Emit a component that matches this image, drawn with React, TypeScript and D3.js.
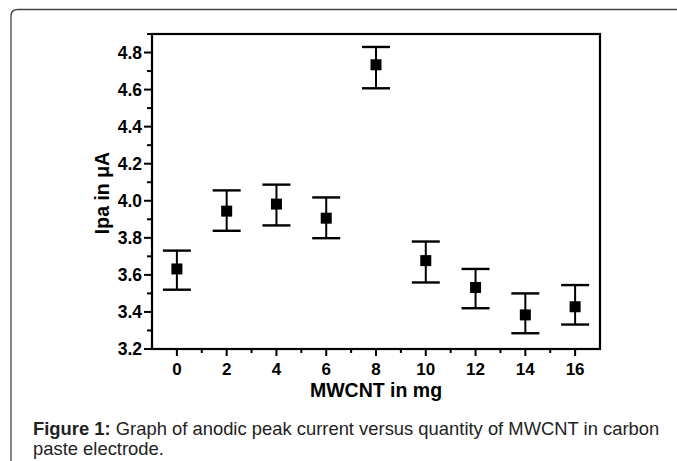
import React from "react";
import * as d3 from "d3";

const xValues = [0, 2, 4, 6, 8, 10, 12, 14, 16];
const yMeans = [3.632, 3.944, 3.982, 3.906, 4.734, 3.677, 3.532, 3.384, 3.428];
const yUpper = [3.731, 4.056, 4.087, 4.018, 4.83, 3.78, 3.632, 3.5, 3.545];
const yLower = [3.52, 3.838, 3.867, 3.798, 4.607, 3.559, 3.42, 3.285, 3.332];
const xTicks = [0, 2, 4, 6, 8, 10, 12, 14, 16];
const yTicks = [3.2, 3.4, 3.6, 3.8, 4.0, 4.2, 4.4, 4.6, 4.8];

const W = 677;
const H = 461;
const L = 152, R = 600, T = 34, B = 349;

export default function App() {
  const x = d3.scaleLinear().domain([-1, 17]).range([L, R]);
  const y = d3.scaleLinear().domain([3.2, 4.9]).range([B, T]);
  const xMinor = d3.range(-1, 17.01, 1).filter((v) => !xTicks.includes(v) && v > -1 && v < 17);
  const yMinor = d3.range(3.3, 4.9, 0.2).map((v) => +v.toFixed(1));
  const font = "'Liberation Sans', Arial, sans-serif";
  return (
    <svg width={W} height={H} style={{ position: "absolute", left: 0, top: 0 }}>
      <rect x={0} y={0} width={W} height={H} fill="#fff" />
      <path d={`M11,${H + 5} L11,16 Q11,9.5 18,9.5 L${W + 5},9.5`} fill="none" stroke="#444" strokeWidth={1.3} />
      <rect x={L} y={T} width={R - L} height={B - T} fill="none" stroke="#000" strokeWidth={2.2} />
      {yTicks.map((v) => (
        <g key={"yt" + v}>
          <line x1={L - 8} x2={L} y1={y(v)} y2={y(v)} stroke="#000" strokeWidth={2} />
          <text x={L - 10} y={y(v)} dy="0.36em" textAnchor="end" fontFamily={font} fontWeight="bold" fontSize={17.5}>
            {v.toFixed(1)}
          </text>
        </g>
      ))}
      {yMinor.map((v) => (
        <line key={"ym" + v} x1={L - 5} x2={L} y1={y(v)} y2={y(v)} stroke="#000" strokeWidth={2} />
      ))}
      {xTicks.map((v) => (
        <g key={"xt" + v}>
          <line x1={x(v)} x2={x(v)} y1={B} y2={B + 7} stroke="#000" strokeWidth={2} />
          <text x={x(v)} y={B + 20} dy="0.36em" textAnchor="middle" fontFamily={font} fontWeight="bold" fontSize={17}>
            {v}
          </text>
        </g>
      ))}
      {xMinor.map((v) => (
        <line key={"xm" + v} x1={x(v)} x2={x(v)} y1={B} y2={B + 4} stroke="#000" strokeWidth={2} />
      ))}
      {xValues.map((xv, i) => (
        <g key={"p" + xv}>
          <line x1={x(xv)} x2={x(xv)} y1={y(yUpper[i])} y2={y(yLower[i])} stroke="#000" strokeWidth={2} />
          <line x1={x(xv) - 14} x2={x(xv) + 14} y1={y(yUpper[i])} y2={y(yUpper[i])} stroke="#000" strokeWidth={2.4} />
          <line x1={x(xv) - 14} x2={x(xv) + 14} y1={y(yLower[i])} y2={y(yLower[i])} stroke="#000" strokeWidth={2.4} />
          <rect x={x(xv) - 5.5} y={y(yMeans[i]) - 5.5} width={11} height={11} fill="#000" />
        </g>
      ))}
      <text x={376} y={397} textAnchor="middle" fontFamily={font} fontWeight="bold" fontSize={19.5}>
        MWCNT in mg
      </text>
      <text transform={`translate(109,193) rotate(-90)`} textAnchor="middle" fontFamily={font} fontWeight="bold" fontSize={19.5}>
        Ipa in μA
      </text>
      <text x={33} y={435} fontFamily={font} fontSize={18.4} fill="#222">
        <tspan fontWeight="bold">Figure 1:</tspan> Graph of anodic peak current versus quantity of MWCNT in carbon
      </text>
      <text x={33} y={455} fontFamily={font} fontSize={18.4} fill="#222">
        paste electrode.
      </text>
    </svg>
  );
}
